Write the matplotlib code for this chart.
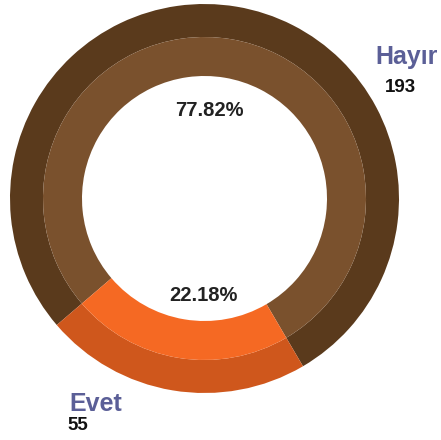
import matplotlib
matplotlib.use("Agg")
import matplotlib.pyplot as plt

categories = ["Hayır", "Evet"]
counts = [193, 55]
percent_labels = ["77.82%", "22.18%"]

outer_colors = ["#5a3a1c", "#cf571c"]
inner_colors = ["#7a512d", "#f56923"]

W, H = 441, 440
fig = plt.figure(figsize=(W / 100, H / 100), dpi=100)
ax = fig.add_axes([0, 0, 1, 1])
ax.set_xlim(0, W)
ax.set_ylim(0, H)
ax.set_aspect("equal")
ax.axis("off")

cx, cy = 204.5, H - 198.5
r_out, r_mid, r_in = 194.5, 161.5, 122.5
total = sum(counts)
start = 260.5 - (360 * counts[0] / total + 180 * counts[1] / total)

ax.pie(counts, radius=r_out, center=(cx, cy), colors=outer_colors,
       startangle=start, counterclock=True,
       wedgeprops=dict(width=r_out - r_mid, linewidth=0), frame=True)
ax.pie(counts, radius=r_mid, center=(cx, cy), colors=inner_colors,
       startangle=start, counterclock=True,
       wedgeprops=dict(width=r_mid - r_in, linewidth=0), frame=True)
ax.set_xlim(0, W)
ax.set_ylim(0, H)
ax.axis("off")

font = "Liberation Sans"
ax.text(209, H - 110.5, percent_labels[0], ha="center", va="center",
        fontsize=14.5, fontweight="bold", color="#222222", family=font)
ax.text(203.5, H - 295.5, percent_labels[1], ha="center", va="center",
        fontsize=14.5, fontweight="bold", color="#222222", family=font)

ax.text(407, H - 64, categories[0], ha="center", va="baseline",
        fontsize=18, fontweight="bold", color="#5b5f97", family=font)
ax.text(400.5, H - 92, str(counts[0]), ha="center", va="baseline",
        fontsize=13.5, fontweight="bold", color="#111111", family=font)
ax.text(95.5, H - 411, categories[1], ha="center", va="baseline",
        fontsize=18, fontweight="bold", color="#5b5f97", family=font)
ax.text(78, H - 430, str(counts[1]), ha="center", va="baseline",
        fontsize=13.5, fontweight="bold", color="#111111", family=font)

fig.savefig("out.png", dpi=100)
